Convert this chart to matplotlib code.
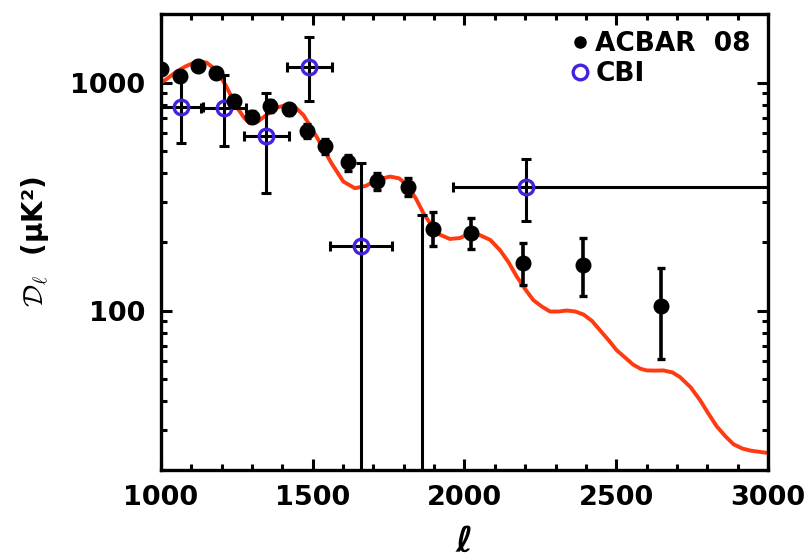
import matplotlib
matplotlib.use("Agg")
import matplotlib.pyplot as plt
from matplotlib.ticker import MultipleLocator, FixedLocator, NullFormatter, LogLocator

plt.rcParams['font.family'] = ['DejaVu Sans']
plt.rcParams['mathtext.fontset'] = 'cm'

# theory curve
model_l = [1000, 1025, 1050, 1080, 1117, 1150, 1185, 1216, 1249, 1275, 1293, 1320,
           1348, 1380, 1414, 1440, 1470, 1513, 1562, 1601, 1639, 1675, 1711, 1755,
           1785, 1810, 1840, 1865, 1909, 1952, 1985, 2018, 2051, 2085, 2117, 2145,
           2172, 2200, 2227, 2255, 2282, 2310, 2337, 2365, 2392, 2420, 2446, 2475,
           2501, 2530, 2556, 2580, 2600, 2630, 2655, 2685, 2710, 2745, 2776, 2805,
           2831, 2860, 2886, 2915, 2941, 2970, 3000]
model_d = [995, 1050, 1113, 1175, 1235, 1225, 1130, 960, 784, 700, 663, 675,
           721, 775, 798, 785, 720, 579, 443, 368, 344, 352, 374, 387,
           380, 356, 310, 267, 218, 206, 208, 218, 214, 204, 184, 163,
           141, 124, 111, 104, 99, 99, 100, 99, 96, 90, 82, 74,
           67, 62, 57.8, 55.5, 54.6, 54.5, 54.6, 53.5, 51, 46, 40.4, 35,
           31.0, 28, 25.9, 24.8, 24.3, 24.0, 23.7]

# ACBAR 08 band powers
acbar_l = [1002, 1062, 1122, 1182, 1242, 1301, 1361, 1421, 1481, 1541, 1618,
           1713, 1814, 1898, 2020, 2194, 2391, 2646]
acbar_d = [1147, 1069, 1183, 1105, 833, 709, 790, 764, 614, 528, 446,
           370, 349, 228, 218, 161, 158, 105]
acbar_lo = [50, 45, 45, 45, 40, 40, 45, 45, 45, 40, 35,
            32, 32, 36, 32, 31, 42, 44]
acbar_hi = [50, 45, 45, 45, 40, 40, 45, 45, 45, 40, 35,
            32, 32, 43, 37, 36, 49, 49]

# CBI band powers
cbi_l = [1066, 1208, 1348, 1489, 1658, 1860, 2203]
cbi_d = [784, 772, 583, 1174, 191, 5, 347]
cbi_lmin = [900, 1134, 1273, 1414, 1557, 1760, 1961]
cbi_lmax = [1138, 1282, 1423, 1564, 1762, 1960, 3300]
cbi_dmin = [545, 528, 327, 830, 1, 1, 247]
cbi_dmax = [1069, 1080, 897, 1580, 443, 263, 461]

fig = plt.figure(figsize=(8.12, 5.58), dpi=100)
ax = fig.add_axes([0.198, 0.158, 0.748, 0.817])

ax.plot(model_l, model_d, color='#FF3A10', lw=2.8, zorder=2)

xerr = [[l - a for l, a in zip(cbi_l, cbi_lmin)], [b - l for l, b in zip(cbi_l, cbi_lmax)]]
yerr = [[d - a for d, a in zip(cbi_d, cbi_dmin)], [b - d for d, b in zip(cbi_d, cbi_dmax)]]
ax.errorbar(cbi_l, cbi_d, xerr=xerr, yerr=yerr, fmt='none', ecolor='black',
            elinewidth=2.2, capsize=3.5, capthick=2.2, zorder=3)
ax.plot(cbi_l, cbi_d, 'o', mfc='none', mec='#4422DD', mew=2.4, ms=10.5, zorder=4,
        label='CBI')

ax.errorbar(acbar_l, acbar_d, yerr=[acbar_lo, acbar_hi], fmt='o', color='black',
            ms=10.5, elinewidth=2.6, capsize=3, capthick=2.4, zorder=5)
ax.plot([], [], 'o', color='black', ms=8, label='ACBAR  08')

ax.set_yscale('log')
ax.set_xlim(1000, 3000)
ax.set_ylim(20, 2000)

ax.xaxis.set_major_locator(FixedLocator([1000, 1500, 2000, 2500, 3000]))
ax.xaxis.set_minor_locator(MultipleLocator(100))
ax.yaxis.set_major_locator(FixedLocator([100, 1000]))
ax.yaxis.set_minor_locator(LogLocator(base=10, subs=range(2, 10)))
ax.yaxis.set_minor_formatter(NullFormatter())
ax.set_yticklabels(['100', '1000'])

ax.tick_params(which='both', direction='in', top=True, right=True, width=2.2,
               labelsize=19.5, pad=11)
ax.tick_params(which='major', length=8)
ax.tick_params(which='minor', length=4)
for lab in ax.get_xticklabels() + ax.get_yticklabels():
    lab.set_fontweight('bold')
for sp in ax.spines.values():
    sp.set_linewidth(2.4)

ax.set_xlabel('ℓ', fontsize=26, labelpad=10, fontweight='bold', fontstyle='italic')
ax.set_ylabel(r'$\mathcal{D}_\ell$  (μK²)', fontsize=20, labelpad=14,
              fontweight='bold')

handles, labels = ax.get_legend_handles_labels()
ax.legend(handles[::-1], labels[::-1], loc='upper right', frameon=False,
          handletextpad=0.1, handlelength=1.0, labelspacing=0.15,
          borderaxespad=0.25, prop={'weight': 'bold', 'size': 19})

fig.savefig('out.png', dpi=100)
